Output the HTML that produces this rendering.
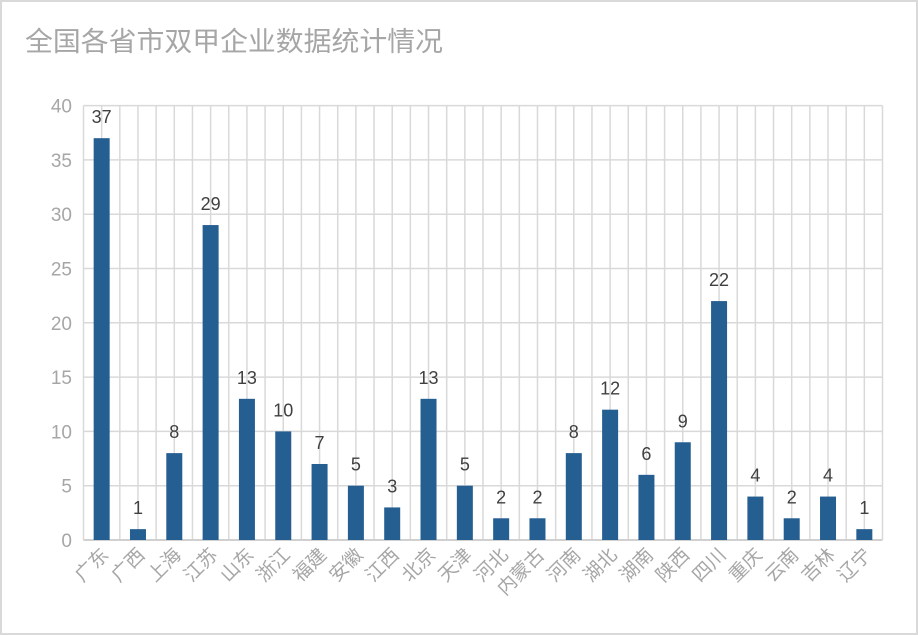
<!DOCTYPE html>
<html><head><meta charset="utf-8"><style>
html,body{margin:0;padding:0;background:#fff;}
svg{display:block;font-family:"Liberation Sans","Noto Sans CJK SC",sans-serif;}
</style></head><body>
<svg width="918" height="635" viewBox="0 0 918 635" xmlns="http://www.w3.org/2000/svg">
<rect x="1" y="1" width="916" height="633" fill="#fff" stroke="#d9d9d9" stroke-width="2"/>
<text x="25" y="51" font-size="27" fill="#a6a6a6" textLength="418" lengthAdjust="spacingAndGlyphs">全国各省市双甲企业数据统计情况</text>
<g id="g"></g>
</svg>
<script>
const ns="http://www.w3.org/2000/svg",g=document.getElementById('g');
function el(t,a,txt){const e=document.createElementNS(ns,t);for(const k in a)e.setAttribute(k,a[k]);if(txt!==undefined)e.textContent=txt;g.appendChild(e);return e;}
const L=83.5,R=882.5,B=540,T=105.6,n=22,cw=(R-L)/n,u=(B-T)/40;
for(let v=0;v<=40;v+=5){const y=B-v*u;el('line',{x1:L,x2:R,y1:y,y2:y,stroke:'#d9d9d9','stroke-width':1.5});
el('text',{x:72,y:y+7,'text-anchor':'end','font-size':19,fill:'#a6a6a6'},v);}
for(let k=0;k<=2*n;k++){const x=L+k*cw/2;el('line',{x1:x,x2:x,y1:T,y2:B,stroke:'#d9d9d9','stroke-width':1.5});}
el('line',{x1:L,x2:R,y1:B,y2:B,stroke:'#d0d0d0','stroke-width':2});
const names=["广东","广西","上海","江苏","山东","浙江","福建","安徽","江西","北京","天津","河北","内蒙古","河南","湖北","湖南","陕西","四川","重庆","云南","吉林","辽宁"];
const vals=[37,1,8,29,13,10,7,5,3,13,5,2,2,8,12,6,9,22,4,2,4,1];
names.forEach((nm,i)=>{const cx=L+cw*(i+0.5),h=vals[i]*u;
el('rect',{x:cx-8,y:B-h,width:16,height:h,fill:'#255e91'});
el('text',{x:cx,y:B-h-15,'text-anchor':'middle','font-size':18,fill:'#404040'},vals[i]);
el('text',{x:cx+8,y:556,'text-anchor':'end','font-size':19,fill:'#a6a6a6',transform:`rotate(-45 ${cx+8} 556)`},nm);});
</script>
</body></html>
